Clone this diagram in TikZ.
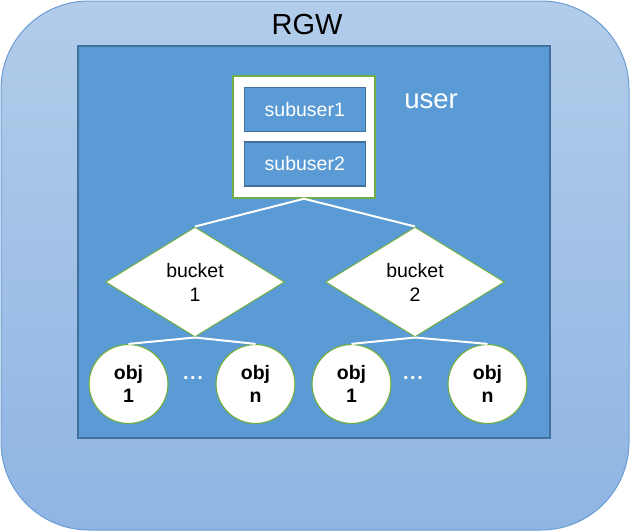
\documentclass[tikz,border=0pt]{standalone}
\usepackage{fontspec}
\setmainfont{Liberation Sans}
\usetikzlibrary{shapes.geometric}
\definecolor{outertop}{RGB}{178,204,234}
\definecolor{outerbot}{RGB}{143,181,227}
\definecolor{outerline}{RGB}{108,156,212}
\definecolor{innerfill}{RGB}{91,155,213}
\definecolor{innerline}{RGB}{65,113,156}
\definecolor{grn}{RGB}{112,173,71}
\tikzset{
  outerbox/.style={draw=outerline, line width=1pt, top color=outertop, bottom color=outerbot, rounded corners=88pt, minimum width=628pt, minimum height=529pt, inner sep=0pt},
  innerbox/.style={draw=innerline, line width=1.5pt, fill=innerfill, minimum width=472pt, minimum height=392pt, inner sep=0pt},
  userbox/.style={draw=grn, line width=1.5pt, fill=white, minimum width=142pt, minimum height=122pt, inner sep=0pt},
  subbox/.style={draw=innerline, line width=1.5pt, fill=innerfill, text=white, minimum width=121pt, minimum height=44pt, inner sep=0pt, font=\fontsize{19.5}{23}\selectfont},
  bucketbox/.style={diamond, draw=grn, line width=1pt, fill=white, minimum width=179pt, minimum height=110pt, inner sep=0pt, align=center, font=\fontsize{19.5}{24}\selectfont},
  objbox/.style={circle, draw=grn, line width=1.2pt, fill=white, minimum size=79pt, inner sep=0pt, align=center, font=\bfseries\fontsize{19.5}{23}\selectfont},
  conn/.style={draw=white, line width=2pt},
  dotslabel/.style={text=white, anchor=base, font=\bfseries\fontsize{20}{23}\selectfont, inner sep=0pt},
}
\begin{document}
\begin{tikzpicture}[x=1pt,y=-1pt]
\useasboundingbox (0,0) rectangle (630,531);
\node[outerbox] (rgw) at (315,265.5) {};
\node[font=\fontsize{29}{34}\selectfont, inner sep=0pt] (rgwlabel) at (307,25) {RGW};
\node[innerbox] (space) at (314,242) {};
\node[userbox] (user) at (304,137) {};
\node[subbox] (sub1) at (304.8,109.7) {subuser1};
\node[subbox] (sub2) at (304.8,164) {subuser2};
\node[text=white, font=\fontsize{27.5}{32}\selectfont, inner sep=0pt] (userlabel) at (431,101) {user};
\node[bucketbox] (b1) at (195,282) {bucket\\1};
\node[bucketbox] (b2) at (415,282) {bucket\\2};
\node[objbox] (o11) at (128.5,384) {obj\\1};
\node[objbox] (o1n) at (255.5,384) {obj\\n};
\node[objbox] (o21) at (351.5,384) {obj\\1};
\node[objbox] (o2n) at (487.5,384) {obj\\n};
\node[dotslabel] (d1) at (193,379) {.\kern1.5pt.\kern1.5pt.};
\node[dotslabel] (d2) at (413,379) {.\kern1.5pt.\kern1.5pt.};
\draw[conn] (user.south) -- (b1.north);
\draw[conn] (user.south) -- (b2.north);
\draw[conn] (b1.south) -- (o11.north);
\draw[conn] (b1.south) -- (o1n.north);
\draw[conn] (b2.south) -- (o21.north);
\draw[conn] (b2.south) -- (o2n.north);
\end{tikzpicture}
\end{document}
